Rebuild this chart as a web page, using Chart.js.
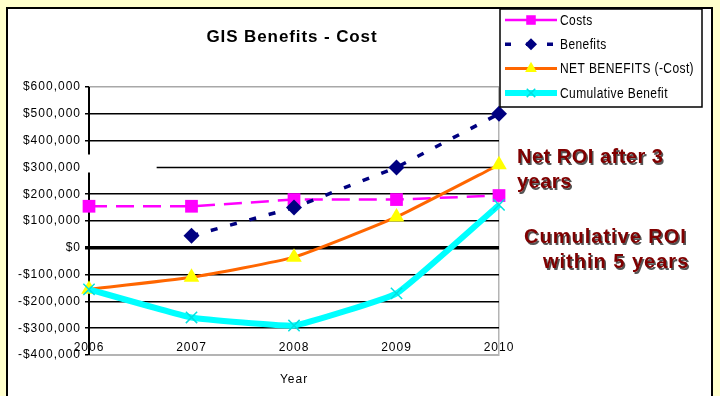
<!DOCTYPE html>
<html><head><meta charset="utf-8">
<script src="https://cdn.jsdelivr.net/npm/chart.js@4"></script>
<style>
html,body{margin:0;padding:0;background:#FFFFCC;width:720px;height:396px;overflow:hidden;font-family:"Liberation Sans",Arial,sans-serif;}
#frame{position:absolute;left:6px;top:7px;width:707px;height:400px;box-sizing:border-box;border:2px solid #000;background:#fff;}
#c{position:absolute;left:0;top:0;}
.t{position:absolute;white-space:nowrap;}
#title{left:192px;top:28px;width:200px;text-align:center;font-weight:bold;font-size:17px;line-height:17px;letter-spacing:0.9px;color:#000;}
.roi{font-weight:bold;font-size:20px;line-height:25px;color:#800000;text-shadow:1.5px 1.5px 0 #555;}
</style></head>
<body>
<div id="frame"></div>
<canvas id="c" width="720" height="396"></canvas>
<div class="t" id="title">GIS Benefits - Cost</div>
<div class="t roi" style="left:517px;top:144px;letter-spacing:0.5px;">Net ROI after 3<br>years</div>
<div class="t roi" style="left:524px;top:224px;letter-spacing:1px;">Cumulative ROI</div>
<div class="t roi" style="left:543px;top:249px;letter-spacing:1px;">within 5 years</div>
<script>
const years = ['2006','2007','2008','2009','2010'];
const costs = [155000, 155000, 180000, 180000, 195000];
const benefits = [null, 45000, 150000, 300000, 500000];
const netBenefits = [-155000, -110000, -35000, 115000, 310000];
const cumulative = [-155000, -260000, -290000, -170000, 160000];
const seriesNames = ['Costs', 'Benefits', 'NET BENEFITS (-Cost)', 'Cumulative Benefit'];
const yMin = -400000, yMax = 600000, yStep = 100000;
const xTitle = 'Year';

Chart.defaults.font.family = '"Liberation Sans", Arial, sans-serif';

function fmt(v){
  const s = Math.abs(v).toLocaleString('en-US');
  return (v < 0 ? '-$' : '$') + s;
}

const deco = {
  id: 'deco',
  beforeDraw(chart){ chart.ctx.letterSpacing = '1px'; },
  beforeDatasetsDraw(chart){
    const ctx = chart.ctx, a = chart.chartArea, x = chart.scales.x, y = chart.scales.y;
    ctx.save();
    const y3 = y.getPixelForValue(300000);
    ctx.strokeStyle = '#000'; ctx.lineWidth = 1.5;
    ctx.beginPath(); ctx.moveTo(x.getPixelForValue(0.66), y3); ctx.lineTo(a.right, y3); ctx.stroke();
    ctx.lineWidth = 2;
    ctx.beginPath();
    ctx.moveTo(a.left, a.top); ctx.lineTo(a.left, y3 - 13);
    ctx.moveTo(a.left, y3 + 5); ctx.lineTo(a.left, a.bottom);
    ctx.stroke();
    ctx.restore();
  },
  afterDraw(chart){
    const ctx = chart.ctx;
    ctx.save();
    const L = 500, T = 9, R = 702, B = 107;
    ctx.fillStyle = '#fff'; ctx.fillRect(L, T, R - L, B - T);
    ctx.strokeStyle = '#000'; ctx.lineWidth = 1.5; ctx.strokeRect(L, T, R - L, B - T);
    chart.data.datasets.forEach((ds, i) => {
      const yy = 20 + i * 24.3;
      ctx.save();
      ctx.strokeStyle = ds.borderColor; ctx.lineWidth = ds.borderWidth;
      ctx.setLineDash(ds.legendDash || []);
      ctx.beginPath(); ctx.moveTo(505, yy); ctx.lineTo(557, yy); ctx.stroke();
      ctx.restore();
      ctx.save();
      ctx.fillStyle = ds.pointBackgroundColor; ctx.strokeStyle = ds.pointBorderColor; ctx.lineWidth = ds.pointBorderWidth;
      Chart.helpers.drawPoint(ctx, {pointStyle: ds.pointStyle, radius: ds.pointRadius * 0.75, borderWidth: ds.pointBorderWidth, rotation: 0}, 531, yy);
      ctx.restore();
      ctx.save();
      ctx.fillStyle = '#000';
      ctx.letterSpacing = '0.4px';
      ctx.font = '12px "Liberation Sans", Arial, sans-serif';
      ctx.textBaseline = 'middle'; ctx.textAlign = 'left';
      ctx.translate(560, yy + 1);
      ctx.scale(1, 1.15);
      ctx.fillText(ds.label, 0, 0);
      ctx.restore();
    });
    ctx.restore();
  }
};

new Chart(document.getElementById('c'), {
  type: 'line',
  data: {
    labels: years,
    datasets: [
      {label: seriesNames[0], data: costs, order: 3, borderColor: '#FF00FF', borderWidth: 2.5, borderDash: [18, 9], legendDash: [],
       pointStyle: 'rect', pointRadius: 9, pointBackgroundColor: '#FF00FF', pointBorderColor: '#FF00FF', pointBorderWidth: 0, tension: 0},
      {label: seriesNames[1], data: benefits, order: 2, borderColor: '#000080', borderWidth: 3.5, borderDash: [7, 13], legendDash: [6, 15],
       pointStyle: 'rectRot', pointRadius: 8, pointBackgroundColor: '#000080', pointBorderColor: '#000080', pointBorderWidth: 0, tension: 0},
      {label: seriesNames[2], data: netBenefits, order: 1, borderColor: '#FF6600', borderWidth: 3, tension: 0.15,
       pointStyle: 'triangle', pointRadius: 9, pointBackgroundColor: '#FFFF00', pointBorderColor: '#FFFF00', pointBorderWidth: 0},
      {label: seriesNames[3], data: cumulative, order: 0, borderColor: '#00FFFF', borderWidth: 6, tension: 0.1,
       pointStyle: 'crossRot', pointRadius: 8, pointBackgroundColor: '#00FFFF', pointBorderColor: '#00E0E0', pointBorderWidth: 1.5}
    ]
  },
  options: {
    responsive: false, animation: false, devicePixelRatio: 1,
    layout: {padding: {top: 87, right: 221, left: 0, bottom: 0}},
    plugins: {legend: {display: false}, tooltip: {enabled: false}, title: {display: false}},
    scales: {
      x: {
        type: 'category', offset: false,
        grid: {color: c => c.index === years.length - 1 ? '#b4b4b4' : 'rgba(0,0,0,0)', lineWidth: 1.5, drawTicks: false},
        border: {color: '#b4b4b4', width: 2},
        ticks: {mirror: true, padding: 0, color: '#000', font: {size: 12}, maxRotation: 0, autoSkip: false},
        title: {display: true, text: xTitle, color: '#000', font: {size: 12}, padding: {top: 0, bottom: 9}},
        afterFit(s){ s.height = 41; }
      },
      y: {
        min: yMin, max: yMax,
        ticks: {stepSize: yStep, callback: fmt, color: '#000', font: {size: 12}, padding: 4},
        grid: {
          color: c => c.tick.value === yMax ? '#a8a8a8' : (c.tick.value === 300000 ? 'rgba(0,0,0,0)' : '#000'),
          tickColor: c => c.tick.value === 300000 ? 'rgba(0,0,0,0)' : '#000',
          lineWidth: c => c.tick.value === 0 ? 3.5 : 1.5,
          tickLength: 4, drawTicks: true
        },
        border: {display: false},
        afterFit(s){ s.width = 89; }
      }
    }
  },
  plugins: [deco]
});
</script>
</body></html>
